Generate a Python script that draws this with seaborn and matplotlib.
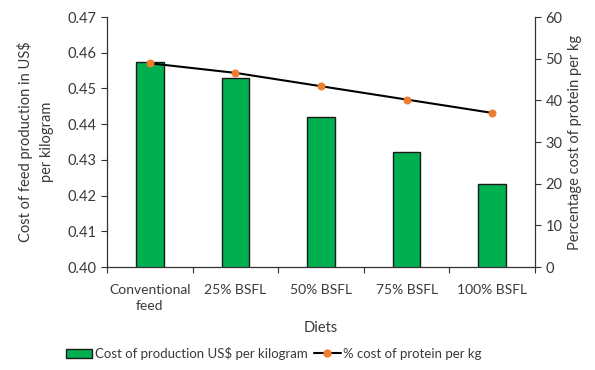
import matplotlib
matplotlib.use("Agg")
import matplotlib.pyplot as plt
import seaborn as sns
import pandas as pd
import numpy as np
from matplotlib.patches import Patch
from matplotlib.lines import Line2D

# Diets and their values
diets = ["Conventional\nfeed", "25% BSFL", "50% BSFL", "75% BSFL", "100% BSFL"]
cost_per_kg = [0.4574, 0.4529, 0.4419, 0.4323, 0.4232]
protein_cost_pct = [48.9, 46.6, 43.4, 40.2, 37.0]

bar_label = "Cost of production US$ per kilogram"
line_label = "% cost of protein per kg"

sns.set_theme(style="white")
plt.rcParams["font.family"] = ["Lato", "DejaVu Sans"]
TEXT = "#3a3a3a"
plt.rcParams["text.color"] = TEXT
plt.rcParams["axes.labelcolor"] = TEXT
plt.rcParams["xtick.color"] = TEXT
plt.rcParams["ytick.color"] = TEXT

df = pd.DataFrame({"Diet": diets, "Cost": cost_per_kg, "Pct": protein_cost_pct})

fig = plt.figure(figsize=(5.95, 3.70), dpi=100)
ax = fig.add_axes([0.180, 0.278, 0.719, 0.676])

sns.barplot(data=df, x="Diet", y="Cost", ax=ax, color="#00B050", width=0.32,
            edgecolor="#1a1a1a", linewidth=1.0, saturation=1)
ax.set_ylim(0.40, 0.47)
ax.set_yticks(np.arange(0.40, 0.4701, 0.01))
ax.set_yticklabels([f"{v:.2f}" for v in np.arange(0.40, 0.4701, 0.01)])
ax.set_xlim(-0.5, len(diets) - 0.5)

# category labels between boundary tick marks
ax.set_xticks(np.arange(len(diets) + 1) - 0.5)
ax.set_xticklabels([])
ax.set_xticks(np.arange(len(diets)), minor=True)
ax.set_xticklabels(diets, minor=True, linespacing=1.45)
ax.tick_params(axis="x", which="major", direction="out", length=4, width=0.8,
               color="#333333", bottom=True)
ax.tick_params(axis="x", which="minor", length=0, labelsize=10, pad=12)
ax.tick_params(axis="y", direction="out", length=4, width=0.8, color="#333333",
               left=True, labelsize=10.5)

ax.set_xlabel("Diets", fontsize=10.5, labelpad=6)
ax.set_ylabel("Cost of feed production in US$\nper kilogram", fontsize=10.5,
              labelpad=10, linespacing=1.6)

for side in ["top", "right"]:
    ax.spines[side].set_visible(False)
for side in ["left", "bottom"]:
    ax.spines[side].set_color("#333333")
    ax.spines[side].set_linewidth(0.9)

ax2 = ax.twinx()
sns.lineplot(x=np.arange(len(diets)), y=protein_cost_pct, ax=ax2, color="black",
             linewidth=1.5, marker="o", markersize=5, markerfacecolor="#ED7D31",
             markeredgecolor="#ED7D31", zorder=5)
ax2.set_ylim(0, 60)
ax2.set_yticks(range(0, 61, 10))
ax2.set_ylabel("Percentage cost of protein per kg", fontsize=10.5, labelpad=4)
ax2.tick_params(axis="y", direction="out", length=4, width=0.8, color="#333333",
                right=True, labelsize=10.5)
for side in ["top", "left", "bottom"]:
    ax2.spines[side].set_visible(False)
ax2.spines["right"].set_color("#333333")
ax2.spines["right"].set_linewidth(0.9)

handles = [
    Patch(facecolor="#00B050", edgecolor="#1a1a1a", linewidth=1.0, label=bar_label),
    Line2D([0], [0], color="black", linewidth=1.5, marker="o", markersize=5,
           markerfacecolor="#ED7D31", markeredgecolor="#ED7D31", label=line_label),
]
fig.legend(handles=handles, loc="center", bbox_to_anchor=(0.46, 0.045), ncol=2,
           frameon=False, fontsize=9.5, handlelength=2.0, handletextpad=0.2,
           columnspacing=0.5)

fig.savefig("out.png", dpi=100, facecolor="white")
